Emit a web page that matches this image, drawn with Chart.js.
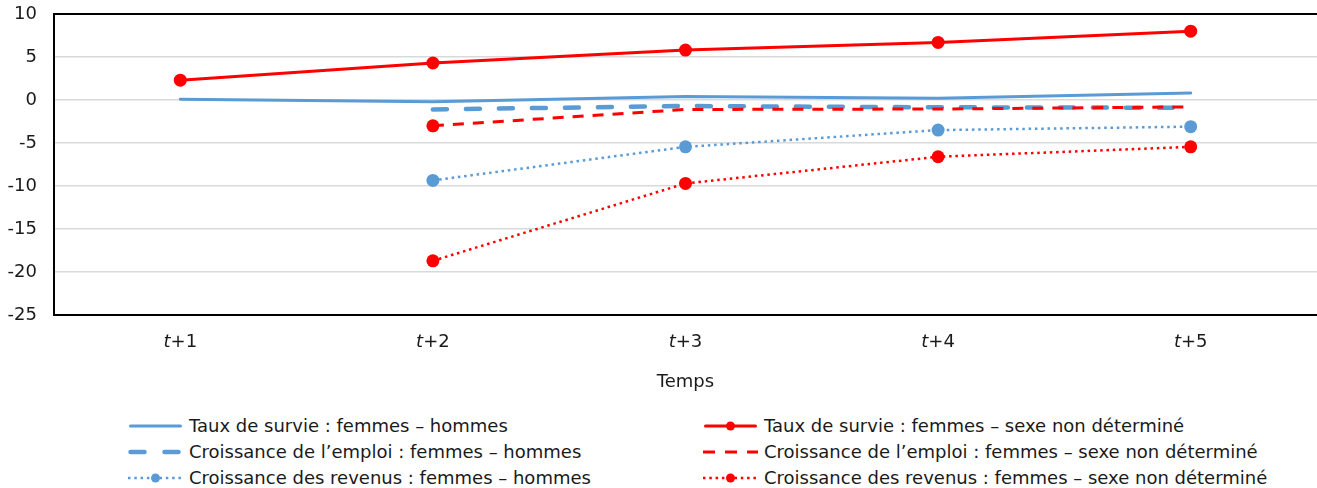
<!DOCTYPE html>
<html lang="fr">
<head>
<meta charset="UTF-8">
<title>Taux de survie et croissance</title>
<script src="https://cdn.jsdelivr.net/npm/chart.js"></script>
<style>
  body { margin: 0; background: #fff; font-family: "DejaVu Sans", Verdana, sans-serif; color: #1a1a1a; }
  #wrap { position: relative; width: 1317px; height: 488px; }
  #box { position: absolute; left: 0; top: 0; width: 1317px; height: 400px; }
  .leg { position: absolute; font-size: 18px; line-height: 20px; white-space: nowrap; display: flex; align-items: center; }
  .leg svg { margin-right: 6px; }
</style>
</head>
<body>
<div id="wrap">
  <div id="box"><canvas id="chart"></canvas></div>
  <div id="legend"></div>
</div>
<script>
const categories = ['t+1', 't+2', 't+3', 't+4', 't+5'];
const yTicks = { min: -25, max: 10, step: 5 };

const survieHommes = [0.1, -0.2, 0.4, 0.2, 0.8];
const survieSnd = [2.3, 4.3, 5.8, 6.7, 8.0];
const emploiHommes = [null, -1.1, -0.7, -0.85, -0.9];
const emploiSnd = [null, -3.0, -1.1, -1.05, -0.8];
const revenusHommes = [null, -9.35, -5.45, -3.5, -3.1];
const revenusSnd = [null, -18.7, -9.7, -6.6, -5.45];

const BLUE = '#5b9bd5';
const RED = '#ff0000';
const FONT = '"DejaVu Sans", Verdana, sans-serif';
const FS = 18;

const series = [
  { label: 'Taux de survie : femmes – hommes', data: survieHommes, color: BLUE, width: 3, dash: [], legDash: 'none', cap: 'round', radius: 0, order: 6 },
  { label: 'Taux de survie : femmes – sexe non déterminé', data: survieSnd, color: RED, width: 3, dash: [], legDash: 'none', cap: 'round', radius: 6.5, order: 1 },
  { label: 'Croissance de l’emploi : femmes – hommes', data: emploiHommes, color: BLUE, width: 4.5, dash: [14, 19], legDash: '14,20', cap: 'round', radius: 0, order: 5 },
  { label: 'Croissance de l’emploi : femmes – sexe non déterminé', data: emploiSnd, color: RED, width: 3, dash: [11, 9], legDash: '12,10', cap: 'butt', radius: [0, 6.5, 0, 0, 0], order: 2 },
  { label: 'Croissance des revenus : femmes – hommes', data: revenusHommes, color: BLUE, width: 2.5, dash: [2.5, 3.8], legDash: '2.5,3.8', cap: 'butt', radius: 6.5, order: 4 },
  { label: 'Croissance des revenus : femmes – sexe non déterminé', data: revenusSnd, color: RED, width: 2.5, dash: [2.5, 3.8], legDash: '2.5,3.8', cap: 'butt', radius: 6.5, order: 3 }
];

// cadre noir (gauche, haut, bas) et étiquettes t+n avec t en italique
const framePlugin = {
  id: 'frame',
  beforeDatasetsDraw(chart) {
    const { ctx, chartArea: a } = chart;
    ctx.save();
    ctx.strokeStyle = '#000';
    ctx.lineWidth = 2;
    ctx.beginPath();
    ctx.moveTo(a.right + 2, a.top);
    ctx.lineTo(a.left, a.top);
    ctx.lineTo(a.left, a.bottom);
    ctx.lineTo(a.right + 2, a.bottom);
    ctx.stroke();
    ctx.restore();
  },
  afterDraw(chart) {
    const { ctx } = chart;
    const xs = chart.scales.x;
    ctx.save();
    ctx.fillStyle = '#1a1a1a';
    ctx.textBaseline = 'middle';
    ctx.textAlign = 'left';
    categories.forEach((c, i) => {
      const first = c.charAt(0), rest = c.slice(1);
      ctx.font = 'italic ' + FS + 'px ' + FONT;
      const w1 = ctx.measureText(first).width;
      ctx.font = FS + 'px ' + FONT;
      const w2 = ctx.measureText(rest).width;
      const x0 = xs.getPixelForValue(i) - (w1 + w2) / 2;
      ctx.font = 'italic ' + FS + 'px ' + FONT;
      ctx.fillText(first, x0, 342);
      ctx.font = FS + 'px ' + FONT;
      ctx.fillText(rest, x0 + w1, 342);
    });
    ctx.restore();
  }
};

new Chart(document.getElementById('chart'), {
  type: 'line',
  data: {
    labels: categories,
    datasets: series.map(s => ({
      label: s.label,
      data: s.data,
      borderColor: s.color,
      backgroundColor: s.color,
      pointBackgroundColor: s.color,
      pointBorderColor: s.color,
      borderWidth: s.width,
      borderDash: s.dash,
      borderCapStyle: s.cap,
      pointRadius: s.radius,
      pointHoverRadius: s.radius,
      pointBorderWidth: 0,
      tension: 0,
      spanGaps: false,
      order: s.order
    }))
  },
  options: {
    responsive: true,
    maintainAspectRatio: false,
    animation: false,
    layout: { autoPadding: false, padding: { top: 14, right: 0, left: 0, bottom: 0 } },
    plugins: { legend: { display: false }, tooltip: { enabled: false } },
    scales: {
      x: {
        offset: true,
        grid: { display: false, drawTicks: false },
        border: { display: false },
        ticks: { display: false },
        title: { display: true, text: 'Temps', color: '#1a1a1a', font: { family: FONT, size: FS }, padding: { top: 0, bottom: 7 } },
        afterFit(scale) { scale.height = 85; scale.paddingLeft = 0; scale.paddingRight = 0; }
      },
      y: {
        min: yTicks.min,
        max: yTicks.max,
        grid: { color: '#d9d9d9', lineWidth: 1.5, drawTicks: false },
        border: { display: false },
        ticks: { stepSize: yTicks.step, color: '#1a1a1a', padding: 17, font: { family: FONT, size: FS } },
        afterFit(scale) { scale.width = 54; scale.paddingTop = 0; scale.paddingBottom = 0; }
      }
    }
  },
  plugins: [framePlugin]
});

// légende sur deux colonnes
const legendPos = [
  { x: 128, y: 426 }, { x: 703, y: 426 },
  { x: 128, y: 452 }, { x: 703, y: 452 },
  { x: 128, y: 478 }, { x: 703, y: 478 }
];
const legend = document.getElementById('legend');
series.forEach((s, i) => {
  const p = legendPos[i];
  const div = document.createElement('div');
  div.className = 'leg';
  div.style.left = p.x + 'px';
  div.style.top = (p.y - 10) + 'px';
  const hasDot = Array.isArray(s.radius) ? false : s.radius > 0;
  const x1 = s.cap === 'round' ? 2.5 : 0;
  div.innerHTML =
    '<svg width="55" height="14"><line x1="' + x1 + '" y1="7" x2="' + (55 - x1) + '" y2="7" stroke="' + s.color + '" stroke-width="' + s.width +
    '" stroke-dasharray="' + s.legDash + '" stroke-linecap="' + s.cap + '"/>' +
    (hasDot ? '<circle cx="27.5" cy="7" r="4.5" fill="' + s.color + '"/>' : '') +
    '</svg><span>' + s.label + '</span>';
  legend.appendChild(div);
});
</script>
</body>
</html>
